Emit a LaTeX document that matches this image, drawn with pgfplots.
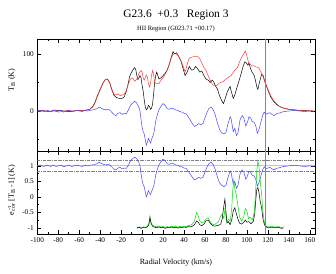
\documentclass[border=0pt]{standalone}
\usepackage{fontspec}
\setmainfont{Liberation Serif}
\usepackage{pgfplots}
\pgfplotsset{compat=1.18}
\definecolor{cred}{HTML}{FF3A3A}
\definecolor{cblue}{HTML}{4545FF}
\definecolor{cgreen}{HTML}{00E000}
\definecolor{cpurple}{HTML}{9966FF}
\pgfplotsset{
  common/.style={
    scale only axis, width=277.7bp, xmin=-100, xmax=165,
    /pgf/number format/assume math mode=true,
    tick label style={font=\fontsize{7.3}{8}\selectfont},
    tick align=inside, major tick length=4bp, minor tick length=2bp,
    xtick={-100,-80,...,160}, minor x tick num=1,
    every axis plot/.append style={line width=0.5pt},
    axis line style={line width=0.5pt},
    tick style={line width=0.5pt, black},
  }
}
\begin{document}
\begin{tikzpicture}
\path[use as bounding box] (0,0) rectangle (336bp,274bp);
% top panel
\begin{axis}[common, at={(37.3bp,123bp)}, height=112bp,
  ymin=-70, ymax=126, ytick={0,100}, minor ytick={-50,50},
  xticklabels={}]
\addplot[black] coordinates {
(-100,0)(-95,1)(-90,-1)(-85,0)(-80,1)(-75,0)(-70,-1)(-65,0)(-60,1)(-55,1)(-52,2)(-50,3)(-47,8)(-45,15)(-43,25)(-40,38)(-37,50)(-35,55)(-33,56)(-31,50)(-29,38)(-27,28)(-25,24)(-22,22)(-19,22)(-17,25)(-15,35)(-13,50)(-12,60)(-10,68)(-8,74)(-7,76)(-6,72)(-5,62)(-4,55)(-3,58)(-2,62)(-1,58)(0,45)(1,35)(2,20)(3,8)(4,2)(5,4)(6,10)(7,8)(8,3)(9,5)(10,12)(11,30)(12,50)(13,62)(14,68)(16,56)(18,58)(20,62)(22,66)(24,72)(26,82)(28,95)(29.5,104)(31,100)(33,102)(35,95)(37,88)(39,75)(41,62)(43,68)(45,78)(47,72)(49,72)(51,78)(53,74)(55,68)(57,70)(59,62)(61,56)(63,54)(65,50)(67,54)(68,52)(70,44)(72,38)(74,26)(76,18)(77.7,13)(79,20)(81,32)(83,40)(84,43)(85,35)(87,22)(88.5,28)(90,38)(92,50)(94,62)(96,76)(98,86)(99.5,84)(101,80)(102,84)(103.5,74)(105,68)(107,62)(108,55)(109.5,42)(110.5,38)(112,50)(114,64)(115.5,62)(117,52)(119,42)(121,32)(123,24)(125,18)(128,12)(131,8)(135,5)(140,3)(145,2)(150,1)(155,1)(160,0)(164,0)};
\addplot[cred] coordinates {
(-100,0)(-97,-1)(-95,1)(-90,-1)(-85,0)(-82,2)(-80,-2)(-75,0)(-70,1)(-65,0)(-60,1)(-55,1)(-52,2)(-50,3)(-47,7)(-45,14)(-43,24)(-40,37)(-37,50)(-35,55)(-33,55)(-31,50)(-29,38)(-27,30)(-25,28)(-23,30)(-21,27)(-19,28)(-17,30)(-15,36)(-13,48)(-11,56)(-9,58)(-7,52)(-5,56)(-3,66)(-1,71)(0,68)(1,58)(2,54)(3,58)(4,63)(5,60)(6,48)(7,42)(8,48)(9,62)(10,71)(11,64)(12,50)(14,48)(16,48)(18,54)(20,58)(22,64)(24,72)(26,82)(28,94)(30,100)(32,100)(34,98)(36,92)(38,84)(40,74)(41,68)(42,74)(43,82)(45,92)(47,94)(49,95)(51,95)(53,95)(55,92)(57,84)(59,76)(61,71)(63,62)(65,54)(67,47)(69,44)(71,44)(73,48)(75,50)(77,51)(79,54)(81,57)(83,60)(85,62)(87,68)(89,72)(91,76)(93,86)(95,94)(97,100)(98.5,105)(100,96)(101.6,85)(103,82)(105,79)(107,79)(109,77)(111,76)(113,70)(115,62)(117,52)(119,43)(121,34)(123,26)(125,20)(128,13)(131,8)(135,5)(140,3)(145,2)(150,1)(155,0)(160,1)(164,0)};
\addplot[cblue] coordinates {
(-100,0)(-97,1)(-94,-1)(-90,1)(-87,-1)(-85,2)(-82,-1)(-80,0)(-77,1)(-75,-2)(-72,0)(-70,1)(-67,-1)(-65,0)(-62,1)(-60,0)(-57,-1)(-55,1)(-52,0)(-50,1)(-47,2)(-45,3)(-43,4)(-41,7)(-39,5)(-37,3)(-35,2)(-33,3)(-31,2)(-29,-2)(-27,-6)(-25,-8)(-23,-4)(-21,-3)(-19,-6)(-17,-4)(-15,-5)(-13,2)(-11,10)(-9,14)(-7,17)(-5,14)(-3,6)(-2,0)(-1,-15)(0,-28)(1,-36)(2,-40)(3,-50)(4,-60)(5,-55)(6,-48)(7,-52)(8,-56)(9,-50)(10,-45)(11,-40)(12,-30)(13,-18)(14,-10)(16,2)(18,8)(20,13)(22,10)(24,4)(26,3)(28,5)(30,4)(32,2)(34,1)(36,-1)(38,-2)(40,-4)(42,-5)(44,-10)(46,-16)(48,-22)(50,-27)(52,-25)(54,-22)(56,-24)(58,-22)(60,-12)(62,-2)(64,5)(66,7)(68,2)(70,-8)(72,-22)(74,-33)(76,-38)(78,-40)(80,-38)(82,-22)(84,-10)(85,-14)(87,-36)(88.5,-30)(90,-43)(91.5,-38)(93.5,-15)(95.5,-8)(97,-12)(99,-26)(100.5,-20)(102,-10)(103.5,-12)(105,-18)(107,-20)(108.5,-26)(110,-39)(111.5,-33)(113,-22)(115,-8)(116.5,-2)(118,-6)(120,-4)(122,-3)(124,-6)(126,-8)(128,-5)(130,-4)(132,-3)(135,-1)(140,0)(145,1)(150,0)(155,-1)(160,0)(164,-1)};
\addplot[cpurple, line width=1.3pt] coordinates {(117.5,-70)(117.5,126)};
\end{axis}
% lower panel
\begin{axis}[common, at={(37.3bp,40bp)}, height=83bp,
  ymin=-1.2, ymax=1.48, ytick={-1,-0.5,0,0.5,1}, minor y tick num=1,
  yticklabels={-1,-0.5,0,0.5,1},
  xticklabels={-100,-80,-60,-40,-20,0,20,40,60,80,100,120,140,160}]
\addplot[gray!45, line width=0.9pt] coordinates {(-100,1)(165,1)};
\addplot[gray, densely dash dot, line width=0.4pt] coordinates {(-100,1.17)(165,1.17)};
\addplot[gray, densely dash dot, line width=0.4pt] coordinates {(-100,0.82)(165,0.82)};
\addplot[cblue] coordinates {
(-100,1.0)(-97,1.02)(-94,0.98)(-90,1.02)(-87,0.98)(-85,1.03)(-82,0.98)(-80,1.0)(-77,1.02)(-75,0.97)(-72,1.0)(-70,1.02)(-67,0.98)(-65,1.0)(-62,1.02)(-60,1.0)(-57,0.98)(-55,1.02)(-52,1.0)(-50,1.02)(-47,1.03)(-45,1.05)(-43,1.07)(-41,1.12)(-39,1.08)(-37,1.05)(-35,1.03)(-33,1.05)(-31,1.03)(-29,0.97)(-27,0.9)(-25,0.87)(-23,0.93)(-21,0.95)(-19,0.9)(-17,0.93)(-15,0.92)(-13,1.03)(-11,1.17)(-9,1.23)(-7,1.28)(-5,1.23)(-3,1.1)(-2,1.0)(-1,0.75)(0,0.53)(1,0.4)(2,0.33)(3,0.17)(4,0.0)(5,0.08)(6,0.2)(7,0.13)(8,0.07)(9,0.17)(10,0.25)(11,0.33)(12,0.5)(13,0.7)(14,0.83)(16,1.03)(18,1.13)(20,1.22)(22,1.17)(24,1.07)(26,1.05)(28,1.08)(30,1.07)(32,1.03)(34,1.02)(36,0.98)(38,0.97)(40,0.93)(42,0.92)(44,0.83)(46,0.73)(48,0.63)(50,0.55)(52,0.58)(54,0.63)(56,0.6)(58,0.63)(60,0.8)(62,0.97)(64,1.08)(66,1.12)(68,1.03)(70,0.87)(72,0.63)(74,0.45)(76,0.37)(78,0.33)(80,0.37)(82,0.63)(84,0.83)(85,0.77)(87,0.4)(88.5,0.5)(90,0.28)(91.5,0.37)(93.5,0.75)(95.5,0.87)(97,0.8)(99,0.57)(100.5,0.67)(102,0.83)(103.5,0.8)(105,0.7)(107,0.67)(108.5,0.57)(110,0.35)(111.5,0.45)(113,0.63)(115,0.87)(116.5,0.97)(118,0.9)(120,0.93)(122,0.95)(124,0.9)(126,0.87)(128,0.92)(130,0.93)(132,0.95)(135,0.98)(140,1.0)(145,1.02)(150,1.0)(155,0.98)(160,1.0)(164,0.98)};
\addplot[cgreen] coordinates {
(-5,-1.02)(-3,-0.97)(-1,-1.0)(1,-0.97)(3,-0.99)(5,-0.95)(6.5,-0.85)(7.5,-0.62)(8.5,-0.82)(10,-0.92)(12,-0.95)(14,-0.97)(16,-0.94)(18,-0.98)(20,-0.95)(22,-0.99)(24,-0.96)(26,-0.98)(28,-0.95)(30,-0.97)(32,-0.95)(34,-0.98)(36,-0.95)(38,-0.97)(40,-0.95)(42,-0.96)(44,-0.93)(46,-0.92)(48,-0.88)(50,-0.78)(52,-0.5)(53.5,-0.6)(55,-0.78)(57,-0.85)(59,-0.8)(61,-0.72)(63,-0.68)(65,-0.8)(67,-0.88)(69,-0.9)(71,-0.85)(73,-0.8)(75,-0.62)(76.5,-0.55)(78,-0.7)(79,-0.4)(80,-0.6)(81,-0.82)(82.5,-0.72)(84,-0.78)(85.5,-0.4)(86.5,0.2)(87.5,0.55)(88.5,0.25)(90,0.05)(91.5,-0.3)(93,-0.65)(95,-0.78)(97,-0.65)(98.5,-0.38)(100,-0.45)(101.5,-0.7)(103,-0.65)(105,-0.75)(106.5,-0.6)(107.5,-0.3)(108.5,0.3)(109.5,0.85)(110.5,1.15)(111.5,1.0)(112.5,0.6)(114,0.1)(115.5,-0.55)(117,-0.88)(119,-0.96)(121,-0.97)(124,-0.95)(127,-0.98)(130,-0.96)(133,-0.99)(135,-0.97)};
\addplot[black] coordinates {
(-5,-1.0)(-3,-0.98)(-1,-1.02)(1,-0.99)(3,-1.0)(5,-0.97)(6.5,-0.9)(7.5,-0.68)(8.5,-0.85)(10,-0.95)(12,-0.98)(14,-1.0)(16,-0.97)(18,-1.0)(20,-0.98)(22,-1.02)(24,-0.99)(26,-1.0)(28,-0.97)(30,-1.0)(32,-0.98)(34,-1.01)(36,-0.98)(38,-1.0)(40,-0.97)(42,-0.99)(44,-0.96)(46,-0.97)(48,-0.95)(50,-0.9)(52,-0.78)(53.5,-0.82)(55,-0.9)(57,-0.93)(59,-0.88)(61,-0.78)(63,-0.75)(65,-0.85)(67,-0.92)(69,-0.95)(71,-0.93)(73,-0.92)(75,-0.88)(76.5,-0.7)(78,-0.3)(79,-0.07)(80,-0.45)(81,-0.85)(82.5,-0.8)(84,-0.9)(85.5,-0.75)(87,-0.45)(88.5,-0.35)(90,-0.55)(91.5,-0.72)(93,-0.85)(95,-0.88)(97,-0.82)(98.5,-0.75)(100,-0.82)(102,-0.8)(104,-0.87)(106,-0.8)(107.5,-0.55)(108.5,-0.1)(109.5,0.25)(110.5,0.3)(111.5,0.15)(112.5,-0.1)(114,-0.35)(115.5,-0.75)(117,-0.92)(119,-0.98)(121,-1.0)(124,-0.98)(127,-1.0)(130,-0.98)(133,-1.02)(135,-1.0)};
\addplot[cpurple, line width=1.3pt] coordinates {(117.5,-1.2)(117.5,1.48)};
\end{axis}
% texts
\node at (176bp,259bp) {\fontsize{11.5}{12}\selectfont G23.6\ \ +0.3\ \ \ Region 3};
\node at (176bp,245bp) {\fontsize{6.5}{7}\selectfont HII Region (G023.71 +00.17)};
\node at (176bp,11bp) {\fontsize{8}{9}\selectfont Radial Velocity (km/s)};
\node[rotate=90] at (12bp,194bp) {\fontsize{8}{9}\selectfont T\textsubscript{B} (K)};
\node[rotate=90] at (12bp,84bp) {\fontsize{8}{9}\selectfont e\rlap{\textsuperscript{\,-τ}}\textsubscript{cor} [T\textsubscript{B} -1] (K)};
\end{tikzpicture}
\end{document}
